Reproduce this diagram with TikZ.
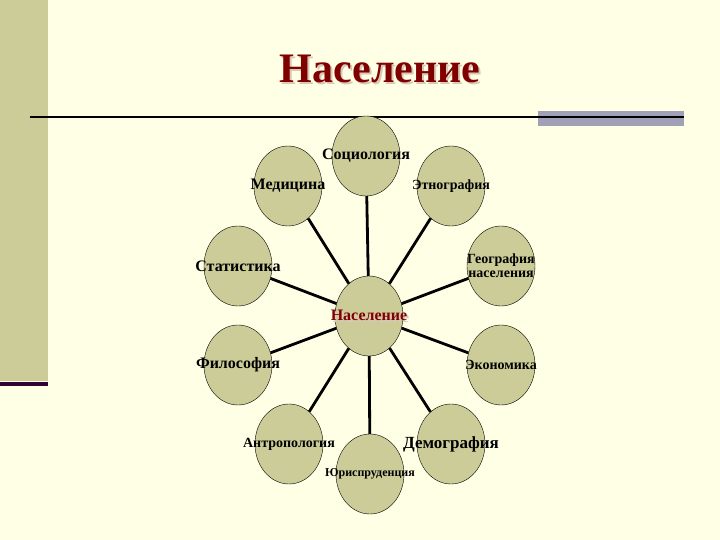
\documentclass[tikz,border=0pt]{standalone}
\usepackage{fontspec}
\setmainfont{Liberation Serif}
\usetikzlibrary{shapes.geometric}

\definecolor{paper}{HTML}{FFFFE5}
\definecolor{khaki}{HTML}{CCCC99}
\definecolor{darkred}{HTML}{800000}
\definecolor{slate}{HTML}{A0A0B6}
\definecolor{plum}{HTML}{330033}
\definecolor{shade}{HTML}{D8C8B8}

% text with a soft drop shadow
\newcommand{\shadowed}[1]{\rlap{\kern2pt\raisebox{-2pt}{\textcolor{shade}{#1}}}#1}

\tikzset{
  topic/.style={ellipse, draw, thin, fill=khaki, minimum width=68pt, minimum height=80pt, inner sep=0pt},
  spoke/.style={line width=2.8pt},
  lbl/.style={font=\bfseries\fontsize{#1}{#1}\selectfont, inner sep=0pt, align=center},
}

\begin{document}
\begin{tikzpicture}[x=1pt,y=-1pt]
		\useasboundingbox (0,0) rectangle (720,540);
		\fill[paper] (0,0) rectangle (720,540);
		\fill[khaki] (0,0) rectangle (48,381);
		\fill[plum] (0,382) rectangle (48,386);
		\fill[slate] (538,111) rectangle (684,126);
		\draw[line width=1.6pt] (30,117) -- (684,117);
		% title
		\node[lbl=42, text=darkred] (title) at (380,70) {\shadowed{Население}};
		% outer topics
		\node[topic, label={[lbl=16]center:Социология}] (soc) at (366,156) {};
		\node[topic, label={[lbl=16]center:Медицина}] (med) at (288,186) {};
		\node[topic, label={[lbl=14]center:Этнография}] (eth) at (451,186) {};
		\node[topic, label={[lbl=16]center:Статистика}] (stat) at (238,266) {};
		\node[topic, label={[lbl=14]center:География\\населения}] (geo) at (501,266) {};
		\node[topic, label={[lbl=16]center:Философия}] (phil) at (238,365) {};
		\node[topic, label={[lbl=14]center:Экономика}] (econ) at (501,365) {};
		\node[topic, label={[lbl=14]center:Антропология}] (anth) at (289,444) {};
		\node[topic, label={[lbl=17]center:Демография}] (demo) at (451,444) {};
		\node[topic, label={[lbl=12]center:Юриспруденция}] (law) at (370,474) {};
		% hub
		\node[topic, label={[lbl=16, text=darkred]center:\shadowed{Население}}] (hub) at (369,316) {};
		\foreach \n in {soc,med,eth,stat,geo,phil,econ,anth,demo,law}
			\draw[spoke] (hub) -- (\n);
	\end{tikzpicture}
\end{document}
